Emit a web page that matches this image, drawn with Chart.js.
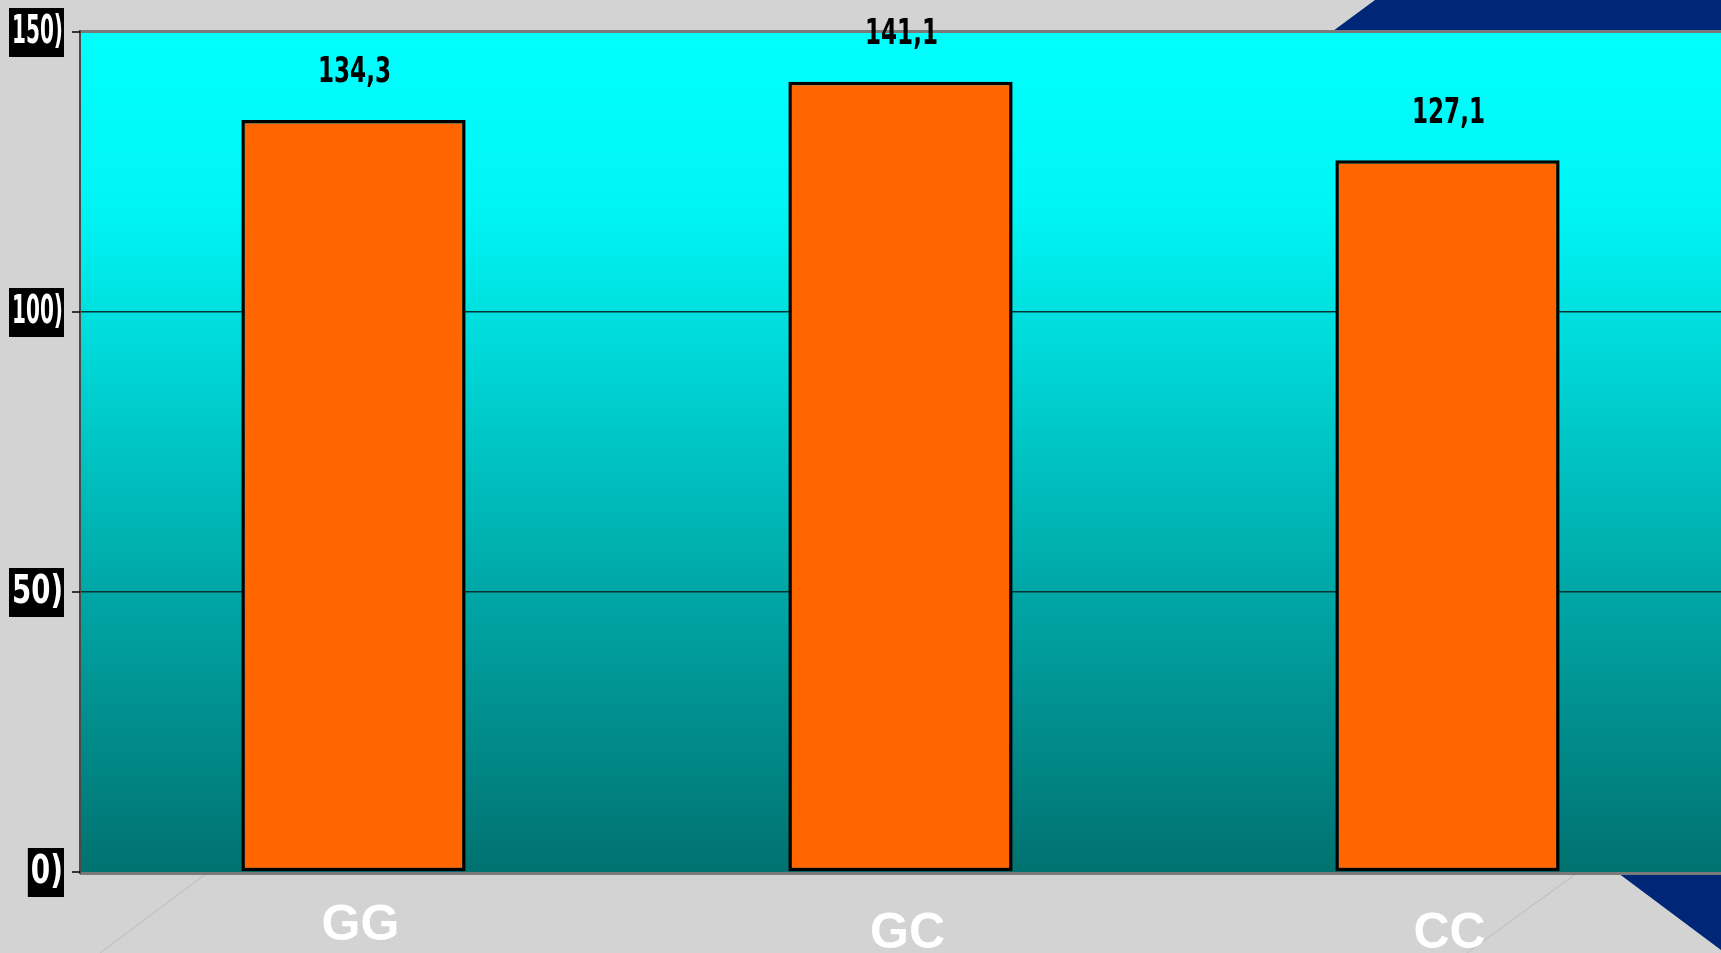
<!DOCTYPE html>
<html lang="pt">

<head>
    <meta charset="UTF-8">
    <meta name="viewport" content="width=device-width, initial-scale=1.0">
    <title>GG / GC / CC</title>
    <style>
        html, body { margin: 0; padding: 0; background: #d3d3d3; overflow: hidden; }
        .grafico { width: 1721px; height: 953px; position: relative; }
    </style>
</head>

<body>
    <div class="grafico">
        <canvas id="genotipos"></canvas>
    </div>

    <script src="https://cdn.jsdelivr.net/npm/chart.js"></script>
    <script>
        // valores do grafico
        const categorias = ['GG', 'GC', 'CC'];
        const valores = [134.3, 141.1, 127.1];
        const rotulosValores = ['134,3', '141,1', '127,1'];
        const marcasY = [0, 50, 100, 150];
        const rotulosY = ['0)', '50)', '100)', '150)'];

        // fundo cinza, faixa azul e linhas do "chao"
        const fundo = {
            id: 'fundo',
            beforeDraw(chart) {
                const ctx = chart.ctx;
                const a = chart.chartArea;
                ctx.save();
                ctx.fillStyle = '#d3d3d3';
                ctx.fillRect(0, 0, chart.width, chart.height);

                ctx.fillStyle = '#002677';
                ctx.beginPath();
                ctx.moveTo(1375, 0);
                ctx.lineTo(chart.width, 0);
                ctx.lineTo(chart.width, 950);
                ctx.lineTo(1618, 873);
                ctx.lineTo(1333, 31);
                ctx.closePath();
                ctx.fill();

                ctx.strokeStyle = '#c2c2c2';
                ctx.lineWidth = 1.2;
                ctx.beginPath();
                ctx.moveTo(207, 873);
                ctx.lineTo(100, 953);
                ctx.moveTo(1577, 873);
                ctx.lineTo(1467, 953);
                ctx.stroke();

                const g = ctx.createLinearGradient(0, a.top, 0, a.bottom);
                g.addColorStop(0, '#00ffff');
                g.addColorStop(0.2, '#00f6f6');
                g.addColorStop(0.34, '#00dfdf');
                g.addColorStop(0.67, '#00a6a6');
                g.addColorStop(1, '#007270');
                ctx.fillStyle = g;
                ctx.fillRect(a.left, a.top, a.right - a.left, a.bottom - a.top);
                ctx.restore();
            },
            beforeDatasetsDraw(chart) {
                const ctx = chart.ctx;
                const a = chart.chartArea;
                const y = chart.scales.y;
                ctx.save();
                // bordas da area
                ctx.fillStyle = '#7a7a7a';
                ctx.fillRect(a.left, a.top - 2, a.right - a.left, 3);
                ctx.fillRect(a.left, a.bottom, a.right - a.left, 3);
                ctx.fillStyle = '#4a4a4a';
                ctx.fillRect(a.left - 1, a.top - 2, 2, a.bottom - a.top + 4);
                // tracinhos do eixo
                ctx.strokeStyle = '#000';
                ctx.lineWidth = 1.5;
                marcasY.forEach(v => {
                    const py = y.getPixelForValue(v);
                    ctx.beginPath();
                    ctx.moveTo(a.left - 8, py);
                    ctx.lineTo(a.left, py);
                    ctx.stroke();
                });
                ctx.restore();
            },
            afterDatasetsDraw(chart) {
                const ctx = chart.ctx;
                const barras = chart.getDatasetMeta(0).data;
                ctx.save();
                ctx.fillStyle = '#000';
                ctx.font = 'bold 36px "Liberation Sans Narrow", "DejaVu Sans Condensed", sans-serif';
                ctx.textAlign = 'center';
                ctx.textBaseline = 'middle';
                barras.forEach((b, i) => {
                    ctx.fillText(rotulosValores[i], b.x + 1, b.y - 47, 73);
                });
                ctx.restore();
            },
            afterDraw(chart) {
                const ctx = chart.ctx;
                const a = chart.chartArea;
                const y = chart.scales.y;
                const x = chart.scales.x;
                ctx.save();
                // rotulos do eixo y em caixas pretas
                ctx.font = 'bold 39px "Liberation Sans Narrow", "DejaVu Sans Condensed", sans-serif';
                ctx.textAlign = 'right';
                ctx.textBaseline = 'middle';
                marcasY.forEach((v, i) => {
                    const py = y.getPixelForValue(v);
                    const txt = rotulosY[i];
                    const w = Math.min(ctx.measureText(txt).width * 0.82, 52);
                    const dir = a.left - 16;
                    ctx.fillStyle = '#000';
                    ctx.fillRect(dir - w - 3, py - 24, w + 3, 49);
                    ctx.fillStyle = '#fff';
                    ctx.fillText(txt, dir - 1, py + 1, w - 1);
                });
                // categorias
                ctx.font = 'bold 50px "Liberation Sans", Arial, sans-serif';
                ctx.textAlign = 'center';
                ctx.textBaseline = 'alphabetic';
                ctx.fillStyle = '#fff';
                categorias.forEach((c, i) => {
                    const px = x.getPixelForValue(i);
                    const base = i === 0 ? 940 : 948;
                    ctx.fillText(c, px + (i === 2 ? 2 : 7), base);
                });
                ctx.restore();
            }
        };

        const dados = {
            labels: categorias,
            datasets: [{
                label: 'Genotipo',
                data: valores,
                backgroundColor: '#ff6600',
                borderColor: '#000',
                borderWidth: 3.5,
                borderSkipped: false,
                barPercentage: 0.41,
                categoryPercentage: 1
            }]
        };

        const config = {
            type: 'bar',
            data: dados,
            options: {
                responsive: true,
                maintainAspectRatio: false,
                animation: false,
                layout: { padding: { left: 80, top: 32, right: 0, bottom: 81 } },
                plugins: {
                    legend: { display: false },
                    tooltip: { enabled: false }
                },
                scales: {
                    x: {
                        grid: { display: false, drawTicks: false },
                        border: { display: false },
                        ticks: { display: false },
                        afterFit: s => { s.height = 0; }
                    },
                    y: {
                        min: 0,
                        max: 150,
                        ticks: { display: false, stepSize: 50 },
                        grid: {
                            drawTicks: false,
                            lineWidth: 1.5,
                            color: c => (c.tick.value === 50 || c.tick.value === 100) ? '#0a3434' : 'rgba(0,0,0,0)'
                        },
                        border: { display: false },
                        afterFit: s => { s.width = 0; }
                    }
                }
            },
            plugins: [fundo]
        };

        let grafico = new Chart(document.getElementById('genotipos'), config);
    </script>
</body>

</html>
